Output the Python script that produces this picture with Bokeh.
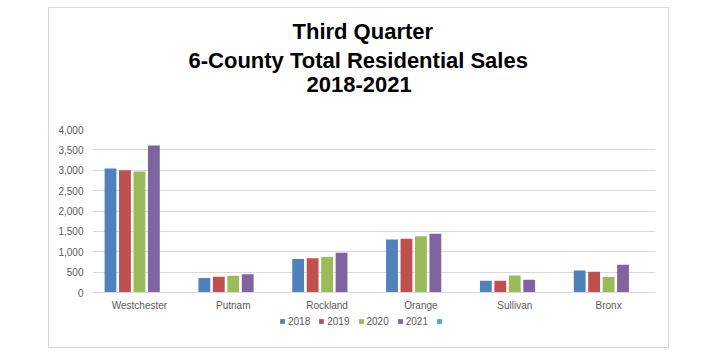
from bokeh.plotting import figure
from bokeh.models import (ColumnDataSource, NumeralTickFormatter, Legend, LegendItem,
                          Title, FactorRange, FixedTicker, Spacer, CategoricalAxis)
from bokeh.transform import dodge
from bokeh.layouts import row, column
from bokeh.embed import file_html
from bokeh.resources import INLINE

# ---- data ----
counties = ["Westchester", "Putnam", "Rockland", "Orange", "Sullivan", "Bronx"]
years = ["2018", "2019", "2020", "2021"]
sales_2018 = [3040, 355, 820, 1300, 290, 540]
sales_2019 = [3000, 385, 840, 1320, 290, 510]
sales_2020 = [2970, 410, 870, 1380, 420, 380]
sales_2021 = [3610, 450, 975, 1445, 315, 680]
blank_series = [0, 0, 0, 0, 0, 0]   # the unlabeled fifth legend entry
y_ticks = [0, 500, 1000, 1500, 2000, 2500, 3000, 3500, 4000]
title_lines = ["Third Quarter", "6-County Total Residential Sales", "2018-2021"]

colors = ["#4F81BD", "#C0504D", "#9BBB59", "#8064A2"]
extra_color = "#4BACC6"

source = ColumnDataSource(dict(county=counties, y2018=sales_2018, y2019=sales_2019,
                               y2020=sales_2020, y2021=sales_2021, blank=blank_series))

# the frame reaches below zero so the legend can sit under the category labels
p = figure(width=619, height=339, x_range=FactorRange(factors=counties),
           y_range=(-883, 4000), output_backend="svg", toolbar_location=None,
           title=None,
           min_border_left=43, min_border_right=13, min_border_top=121,
           min_border_bottom=19)
p.outline_line_color = None
p.background_fill_color = "white"
p.border_fill_color = "white"

pitch = 0.154
bw = 0.126
offsets = [-2 * pitch, -pitch, 0.0, pitch, 2 * pitch]
renderers = []
for i, yr in enumerate(years):
    r = p.vbar(x=dodge("county", offsets[i], range=p.x_range), top="y" + yr,
               width=bw, source=source, fill_color=colors[i], line_color=None)
    renderers.append(r)
blank = p.vbar(x=dodge("county", offsets[4], range=p.x_range), top="blank",
               width=bw, source=source, fill_color=extra_color, line_color=None)

# axes
p.yaxis.ticker = FixedTicker(ticks=y_ticks)
p.yaxis.formatter = NumeralTickFormatter(format="0,0")
p.yaxis.axis_line_color = None
p.yaxis.major_tick_line_color = None
p.yaxis.minor_tick_line_color = None
p.yaxis.major_tick_out = 0
p.yaxis.major_label_text_font = "Liberation Sans"
p.yaxis.major_label_text_font_size = "10px"
p.yaxis.major_label_text_color = "#595959"
p.yaxis.major_label_standoff = 9

p.xaxis.fixed_location = 0
p.xaxis.axis_line_color = "#d9d9d9"
p.xaxis.major_tick_line_color = None
p.xaxis.minor_tick_line_color = None
p.xaxis.major_tick_out = 0
p.xaxis.major_label_text_font = "Liberation Sans"
p.xaxis.major_label_text_font_size = "10px"
p.xaxis.major_label_text_color = "#595959"
p.xaxis.major_label_standoff = 7

p.xgrid.grid_line_color = None
p.ygrid.grid_line_color = "#d9d9d9"
p.ygrid.ticker = FixedTicker(ticks=y_ticks)

# legend under the category labels (inside the extended frame)
items = [LegendItem(label=yr, renderers=[renderers[i]]) for i, yr in enumerate(years)]
items.append(LegendItem(label=" ", renderers=[blank]))
legend = Legend(items=items, orientation="horizontal", location=(187, 1),
                glyph_width=6, glyph_height=6, label_standoff=3, spacing=8,
                label_height=12, label_text_font="Liberation Sans",
                label_text_font_size="10px", label_text_color="#595959",
                border_line_color=None, background_fill_alpha=0,
                padding=0, margin=0)
p.add_layout(legend, "center")

# empty spacer (label-less axis) between the title block and the plot area
gap_axis = CategoricalAxis(axis_line_color=None, major_tick_line_color=None,
                           minor_tick_line_color=None, major_tick_out=37,
                           major_label_standoff=0,
                           major_label_text_font_size="0px",
                           major_label_text_alpha=0,
                           major_label_overrides={c: "" for c in counties})
p.add_layout(gap_axis, "above")

# title lines, added from the bottom one up
title_offsets = [214, 96, 200]
title_standoffs = [1.7, 1.7, 1.7]
for k, line in enumerate(reversed(title_lines)):
    t = Title(text=line, align="left", offset=title_offsets[k],
              standoff=title_standoffs[k],
              text_font="Liberation Sans", text_font_style="bold",
              text_font_size="22px", text_color="#000000")
    p.add_layout(t, "above")

p.styles = {"outline": "1px solid #d9d9d9"}

layout = column(Spacer(height=8), row(Spacer(width=49), p))
open("out.html", "w").write(file_html(layout, INLINE))
